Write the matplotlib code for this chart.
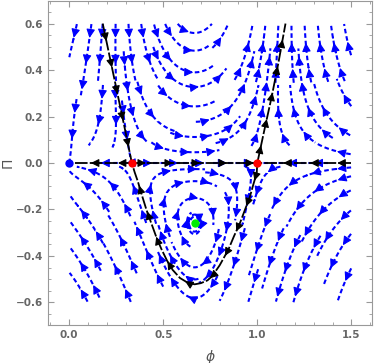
import numpy as np
import matplotlib.pyplot as plt

# fixed points (phi, Pi) and their colours
fp_phi = [0.0, 1 / 3, 1.0, 2 / 3]
fp_pi = [0.0, 0.0, 0.0, -0.26]
fp_col = ['#0000ff', '#ff0000', '#ff0000', '#00ee00']

# black separatrices, listed in the direction of the flow
upl_phi = [0.178, 0.217, 0.256, 0.295, 0.333]
upl_pi = [0.60, 0.45, 0.30, 0.15, 0.0]
upr_phi = [1.0, 1.036, 1.077, 1.112, 1.150]
upr_pi = [0.0, 0.136, 0.287, 0.43, 0.60]
low_phi = [1.0, 0.997, 0.978, 0.961, 0.935, 0.908, 0.876, 0.846, 0.80, 0.76, 0.735,
           0.70, 0.667, 0.63, 0.589, 0.55, 0.52, 0.49, 0.465, 0.43, 0.41, 0.385,
           0.365, 0.348, 0.333]
low_pi = [0.0, -0.043, -0.095, -0.144, -0.20, -0.258, -0.315, -0.373, -0.44, -0.487,
          -0.505, -0.517, -0.522, -0.515, -0.495, -0.46, -0.42, -0.37, -0.323, -0.245,
          -0.2, -0.135, -0.08, -0.04, 0.0]
# invariant line Pi = 0, split at the fixed points
axis_segs = [([1 / 3, 0.0], [0, 0]), ([1 / 3, 1.0], [0, 0]), ([1.5, 1.0], [0, 0])]

phi_range = (0.0, 1.5)
pi_range = (-0.6, 0.6)
xticks = [0.0, 0.5, 1.0, 1.5]
yticks = [-0.6, -0.4, -0.2, 0.0, 0.2, 0.4, 0.6]


def field(p, q):
    f = -p * (3 * p - 1) * (p - 1)
    dp = f + 0.885 * q * (p + 0.15) - 0.5 * q ** 2
    dq = 7.0 * q * (p - 2 / 3) * (p + 0.06) * (1 + 1.5 * q ** 2)
    return dp, dq


def arrow_curve(ax, xs, ys, color='black', lw=1.3, dash=(7, 1.2), step=27,
                offset=18, head=12, z=5):
    ax.plot(xs, ys, color=color, lw=lw, ls=(0, dash), zorder=z,
            solid_capstyle='butt')
    pts = ax.transData.transform(np.column_stack([xs, ys]))
    seg = np.hypot(*np.diff(pts, axis=0).T)
    if not (seg > 1e-9).any():
        return
    cum = np.concatenate([[0], np.cumsum(seg)])
    inv = ax.transData.inverted()
    s = offset
    while s < cum[-1] - 2:
        i = np.searchsorted(cum, s) - 1
        i = max(0, min(i, len(seg) - 1))
        while seg[i] < 1e-9 and i < len(seg) - 1:
            i += 1
        t = (s - cum[i]) / seg[i]
        tip = pts[i] + t * (pts[i + 1] - pts[i])
        d = (pts[i + 1] - pts[i]) / seg[i]
        tail = tip - d * 6
        ax.annotate('', xy=inv.transform(tip), xytext=inv.transform(tail),
                    arrowprops=dict(arrowstyle='-|>', color=color, lw=0.8,
                                    mutation_scale=head, shrinkA=0, shrinkB=0),
                    zorder=z + 1)
        s += step


fig = plt.figure(figsize=(3.74, 3.63), dpi=100)
ax = fig.add_axes([0.1283, 0.1047, 0.8664, 0.8925])
ax.set_xlim(-0.113, 1.61)
ax.set_ylim(-0.697, 0.697)

# pixels per data unit
o = ax.transData.transform((0, 0))
sx = ax.transData.transform((1, 0))[0] - o[0]
sy = ax.transData.transform((0, 1))[1] - o[1]

cell = 6.8
nx = int((phi_range[1] - phi_range[0]) * sx / cell) + 1
ny = int((pi_range[1] - pi_range[0]) * sy / cell) + 1
occ = np.zeros((nx, ny), dtype=bool)


def cell_of(p, q):
    return (int((p - phi_range[0]) * sx / cell), int((q - pi_range[0]) * sy / cell))


def unit_dir(p, q):
    dp, dq = field(p, q)
    vx, vy = dp * sx, dq * sy
    n = np.hypot(vx, vy)
    if n < 1e-6:
        return None
    return vx / n / sx, vy / n / sy


def trace(p, q, sign, length, start_cell):
    out = []
    h = 1.0
    for _ in range(int(length / h)):
        d1 = unit_dir(p, q)
        if d1 is None:
            break
        pm, qm = p + sign * 0.5 * h * d1[0], q + sign * 0.5 * h * d1[1]
        d2 = unit_dir(pm, qm)
        if d2 is None:
            break
        p, q = p + sign * h * d2[0], q + sign * h * d2[1]
        if not (phi_range[0] <= p <= phi_range[1] and pi_range[0] <= q <= pi_range[1]):
            break
        c = cell_of(p, q)
        if c != start_cell and occ[min(c[0], nx - 1), min(c[1], ny - 1)]:
            break
        out.append((p, q))
    return out


streams = []
for q0 in np.linspace(0.56, -0.56, 21):
    for p0 in np.linspace(0.03, 1.47, 21):
        c0 = cell_of(p0, q0)
        if occ[max(c0[0] - 1, 0):c0[0] + 2, max(c0[1] - 1, 0):c0[1] + 2].any():
            continue
        back = trace(p0, q0, -1, 50, c0)
        fwd = trace(p0, q0, 1, 50, c0)
        pts = back[::-1] + [(p0, q0)] + fwd
        if len(pts) < 24:
            continue
        for (p, q) in pts:
            c = cell_of(p, q)
            occ[min(c[0], nx - 1), min(c[1], ny - 1)] = True
        streams.append(np.array(pts))

for ln in streams:
    arrow_curve(ax, ln[:, 0], ln[:, 1], color='#0000ff', lw=1.5, dash=(2.2, 1.4),
                step=26, offset=14, head=13, z=2)

arrow_curve(ax, upl_phi, upl_pi)
arrow_curve(ax, upr_phi, upr_pi)
arrow_curve(ax, low_phi, low_pi)
for sxs, sys_ in axis_segs:
    arrow_curve(ax, sxs, sys_, step=27, offset=14)

for x, y, c in zip(fp_phi, fp_pi, fp_col):
    ax.plot(x, y, 'o', color=c, ms=6, mec='none', zorder=8)

gray = '#999999'
for sp in ax.spines.values():
    sp.set_color(gray)
ax.set_xticks(xticks)
ax.set_yticks(yticks)
ax.set_xticks(np.arange(-0.1, 1.61, 0.1), minor=True)
ax.set_yticks(np.arange(-0.65, 0.66, 0.05), minor=True)
ax.tick_params(which='both', direction='in', top=True, right=True, color=gray,
               labelcolor='#666666', labelsize=7.5)
ax.tick_params(which='major', length=4)
ax.tick_params(which='minor', length=2)
ax.set_xticklabels(['%.1f' % v for v in xticks], fontweight='bold')
ax.set_yticklabels(['%.1f' % v if v >= 0 else '\u2212%.1f' % -v for v in yticks],
                   fontweight='bold')
ax.set_xlabel('\u03d5', fontsize=10, color='#555555', style='italic', labelpad=7)
ax.set_ylabel('\u03a0', fontsize=10, color='#555555')
ax.yaxis.set_label_coords(-0.103, 0.5)

fig.savefig('out.png', dpi=100)
